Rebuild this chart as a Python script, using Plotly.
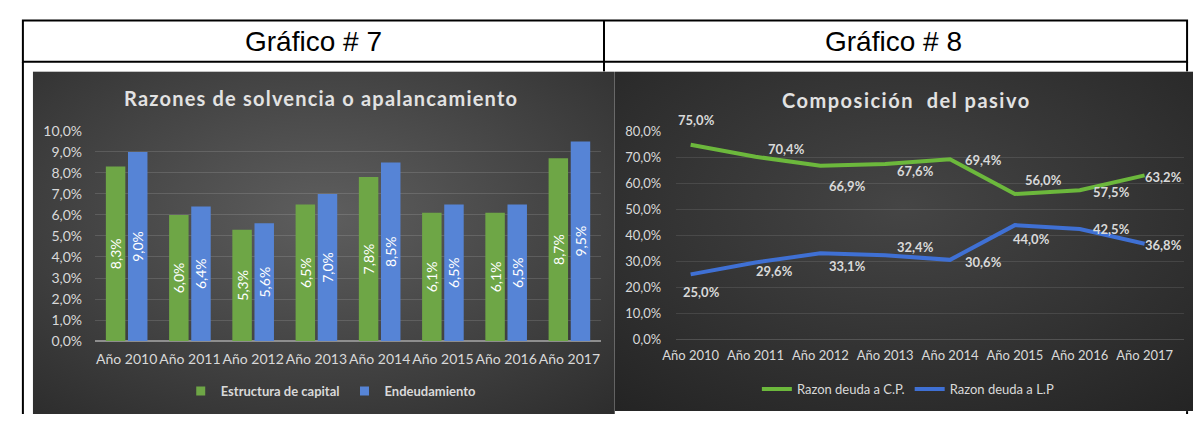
import base64
import plotly.graph_objects as go

# ---------------- data ----------------
years = ["Año 2010", "Año 2011", "Año 2012", "Año 2013",
         "Año 2014", "Año 2015", "Año 2016", "Año 2017"]
estructura_capital = [8.3, 6.0, 5.3, 6.5, 7.8, 6.1, 6.1, 8.7]
endeudamiento = [9.0, 6.4, 5.6, 7.0, 8.5, 6.5, 6.5, 9.5]
deuda_cp = [75.0, 70.4, 66.9, 67.6, 69.4, 56.0, 57.5, 63.2]
deuda_lp = [25.0, 29.6, 33.1, 32.4, 30.6, 44.0, 42.5, 36.8]

left_ticks = [0, 1, 2, 3, 4, 5, 6, 7, 8, 9, 10]
left_tick_labels = ["0,0%", "1,0%", "2,0%", "3,0%", "4,0%", "5,0%",
                    "6,0%", "7,0%", "8,0%", "9,0%", "10,0%"]
right_ticks = [0, 10, 20, 30, 40, 50, 60, 70, 80]
right_tick_labels = ["0,0%", "10,0%", "20,0%", "30,0%", "40,0%",
                     "50,0%", "60,0%", "70,0%", "80,0%"]

# ---------------- geometry helpers ----------------
W, H = 1193, 422


def px(x):
    return x / W


def py(y):
    return 1 - y / H


def grad_uri(inner, outer, cx, cy, r):
    svg = ("<svg xmlns='http://www.w3.org/2000/svg' width='100' height='100' "
           "viewBox='0 0 100 100' preserveAspectRatio='none'><defs>"
           f"<radialGradient id='g' cx='{cx}' cy='{cy}' r='{r}' gradientUnits='userSpaceOnUse'>"
           f"<stop offset='0' stop-color='{inner}'/><stop offset='1' stop-color='{outer}'/>"
           "</radialGradient></defs><rect x='0' y='0' width='100' height='100' fill='url(#g)'/></svg>")
    return "data:image/svg+xml;base64," + base64.b64encode(svg.encode()).decode()


GREEN_BAR = "#6ea646"
BLUE_BAR = "#5684d6"
GREEN_LINE = "#6cb83c"
BLUE_LINE = "#3f70d4"
LIGHT = "#d9d9d9"

fig = go.Figure()

# ---------------- left chart: bars ----------------
bar_text_font = dict(family="Lato", size=14, color="white")
fig.add_trace(go.Bar(
    x=years, y=estructura_capital, name="Estructura de capital",
    marker=dict(color=GREEN_BAR, line=dict(width=0)),
    texttemplate="%{y:.1f}%", textposition="inside", textangle=-90,
    insidetextanchor="middle", constraintext="none", textfont=bar_text_font,
    xaxis="x", yaxis="y", showlegend=False,
))
fig.add_trace(go.Bar(
    x=years, y=endeudamiento, name="Endeudamiento",
    marker=dict(color=BLUE_BAR, line=dict(width=0)),
    texttemplate="%{y:.1f}%", textposition="inside", textangle=-90,
    insidetextanchor="middle", constraintext="none", textfont=bar_text_font,
    xaxis="x", yaxis="y", showlegend=False,
))
# legend entries (small squares like the original)
for nm, col in [("Estructura de capital", GREEN_BAR), ("Endeudamiento", BLUE_BAR)]:
    fig.add_trace(go.Scatter(
        x=[None], y=[None], mode="markers", name=nm,
        marker=dict(symbol="square", size=9, color=col),
        xaxis="x", yaxis="y", legend="legend",
    ))

# ---------------- right chart: lines ----------------
fig.add_trace(go.Scatter(
    x=years, y=deuda_cp, name="Razon deuda a C.P.", mode="lines",
    line=dict(color=GREEN_LINE, width=4),
    xaxis="x2", yaxis="y2", legend="legend2", showlegend=True,
))
fig.add_trace(go.Scatter(
    x=years, y=deuda_lp, name="Razon deuda a L.P", mode="lines",
    line=dict(color=BLUE_LINE, width=4),
    xaxis="x2", yaxis="y2", legend="legend2", showlegend=True,
))

# label offsets (pixels, label centre relative to the point; +dy = down)
green_label_offsets = [(6, -25), (31, -8), (27, 20), (30, 7),
                       (33, 1), (29, -14), (32, 2), (19, 2)]
blue_label_offsets = [(11, 18), (19, 9), (27, 13), (30, -8),
                      (33, 2), (17, 14), (32, 0), (19, 1)]

label_font = dict(family="Lato", size=13, color=LIGHT, weight="bold")
annotations = []
for series, offsets in [(deuda_cp, green_label_offsets), (deuda_lp, blue_label_offsets)]:
    for yr, val, (dx, dy) in zip(years, series, offsets):
        annotations.append(dict(
            x=yr, y=val, xref="x2", yref="y2",
            text=f"{val:.1f}%".replace(".", ","),
            showarrow=False, xanchor="center", yanchor="middle",
            xshift=dx, yshift=-dy, font=label_font,
        ))

# ---------------- layout ----------------
axis_font_l = dict(family="Lato", size=14, color=LIGHT)
axis_font_r = dict(family="Lato", size=13, color=LIGHT)

fig.update_layout(
    width=W, height=H,
    margin=dict(l=0, r=0, t=0, b=0),
    paper_bgcolor="white", plot_bgcolor="rgba(0,0,0,0)",
    separators=",.",
    hovermode=False,
    barmode="group", bargap=0.3, bargroupgap=0.12,
    xaxis=dict(domain=[px(82), px(594)], anchor="y", type="category",
               categoryorder="array", categoryarray=years, tickangle=0,
               showgrid=False, zeroline=False, showline=False, ticks="",
               tickfont=axis_font_l, ticklabelstandoff=8, fixedrange=True),
    yaxis=dict(domain=[py(346), py(127)], anchor="x", range=[0, 10],
               tickmode="array", tickvals=left_ticks, ticktext=left_tick_labels,
               showgrid=True, gridcolor="rgba(255,255,255,0.13)", gridwidth=1,
               zeroline=True, zerolinecolor="#8e8e8e", zerolinewidth=2,
               showline=False, ticks="", tickfont=axis_font_l,
               ticklabelstandoff=12, fixedrange=True),
    xaxis2=dict(domain=[px(670), px(1184)], anchor="y2", type="category",
                categoryorder="array", categoryarray=years, tickangle=0,
                showgrid=False, zeroline=False, showline=False, ticks="",
                tickfont=axis_font_r, ticklabelstandoff=7, fixedrange=True),
    yaxis2=dict(domain=[py(344), py(128)], anchor="x2", range=[0, 80],
                tickmode="array", tickvals=right_ticks, ticktext=right_tick_labels,
                showgrid=True, gridcolor="rgba(255,255,255,0.10)", gridwidth=1,
                zeroline=True, zerolinecolor="rgba(255,255,255,0.16)", zerolinewidth=1,
                showline=False, ticks="", tickfont=axis_font_r,
                ticklabelstandoff=14, fixedrange=True),
    legend=dict(orientation="h", x=px(321), xanchor="center", y=py(398),
                yanchor="middle", bgcolor="rgba(0,0,0,0)",
                font=dict(family="Lato", size=13, color=LIGHT, weight="bold"),
                itemwidth=30),
    legend2=dict(orientation="h", x=px(905), xanchor="center", y=py(396),
                 yanchor="middle", bgcolor="rgba(0,0,0,0)",
                 font=dict(family="Lato", size=13, color=LIGHT),
                 itemwidth=30),
    images=[
        dict(source=grad_uri("#5e5e5e", "#2c2c2c", 50, 42, 78),
             xref="paper", yref="paper", x=px(19), y=py(65),
             sizex=px(608) - px(19), sizey=(422 - 65) / H,
             xanchor="left", yanchor="top", sizing="stretch", layer="below"),
        dict(source=grad_uri("#454545", "#232323", 50, 40, 80),
             xref="paper", yref="paper", x=px(608), y=py(65),
             sizex=px(1193) - px(608), sizey=(419 - 65) / H,
             xanchor="left", yanchor="top", sizing="stretch", layer="below"),
    ],
)

# ---------------- table frame ----------------
line = dict(color="black", width=2)
shapes = [
    dict(type="rect", xref="paper", yref="paper",
         x0=px(9), x1=px(1187), y0=py(55), y1=py(12), line=line),
    dict(type="line", xref="paper", yref="paper",
         x0=px(597), x1=px(597), y0=py(12), y1=py(65), line=line),
    dict(type="line", xref="paper", yref="paper",
         x0=px(9), x1=px(9), y0=py(55), y1=py(422), line=line),
    dict(type="line", xref="paper", yref="paper",
         x0=px(1187), x1=px(1187), y0=py(55), y1=py(65), line=line),
    dict(type="line", xref="paper", yref="paper",
         x0=px(1187), x1=px(1187), y0=py(419), y1=py(422), line=line),
]
fig.update_layout(shapes=shapes)

# ---------------- text: headers and titles ----------------
annotations += [
    dict(text="Gráfico # 7", x=px(303), y=py(34), xref="paper", yref="paper",
         showarrow=False, xanchor="center", yanchor="middle",
         font=dict(family="Liberation Sans, Arial", size=28, color="black")),
    dict(text="Gráfico # 8", x=px(890), y=py(34), xref="paper", yref="paper",
         showarrow=False, xanchor="center", yanchor="middle",
         font=dict(family="Liberation Sans, Arial", size=28, color="black")),
    dict(text="<span style='letter-spacing:1.2px'>Razones de solvencia o apalancamiento</span>",
         x=px(311), y=py(93), xref="paper", yref="paper",
         showarrow=False, xanchor="center", yanchor="middle",
         font=dict(family="Lato", size=20, color="#e2e2e2", weight="bold")),
    dict(text="<span style='letter-spacing:1.5px'>Composición  del pasivo</span>",
         x=px(903), y=py(95), xref="paper", yref="paper",
         showarrow=False, xanchor="center", yanchor="middle",
         font=dict(family="Lato", size=20, color="#e2e2e2", weight="bold")),
]
fig.update_layout(annotations=annotations)

fig.write_html("out.html",
               config={"displayModeBar": False, "staticPlot": True},
               post_script="document.body.style.margin='0';document.body.style.overflow='hidden';")
